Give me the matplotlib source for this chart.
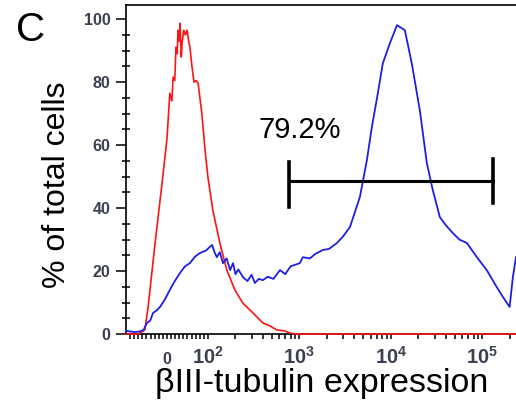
import matplotlib
matplotlib.use("Agg")
import matplotlib.pyplot as plt
from matplotlib.ticker import FixedLocator

plt.rcParams["font.family"] = ["Liberation Sans", "DejaVu Sans"]
plt.rcParams["mathtext.fontset"] = "custom"
plt.rcParams["mathtext.rm"] = "Liberation Sans:bold"
plt.rcParams["mathtext.it"] = "Liberation Sans:bold"

# isotype control (red) - fluorescence vs % of max
red_x = [-100, -70, -54, -46, -29, -12, 0, 7, 12, 15, 19, 22, 25, 27, 30, 32, 35, 37,
         41, 45, 49, 53, 56, 61, 66, 71, 76, 85, 93, 100, 113, 135, 161, 197, 241,
         310, 399, 480, 567, 690, 787, 900, 233000]
red_y = [0, 0, 1.3, 8.6, 28.9, 47.9, 62.0, 76.5, 74.0, 81.6, 80.5, 91.1, 89.0, 96.5,
         93.0, 98.7, 88.0, 92.4, 96.5, 95.0, 96.5, 93.0, 91.1, 85.0, 80.0, 80.5,
         79.7, 70.2, 58.4, 49.8, 39.4, 28.9, 20.3, 14.0, 9.8, 6.7, 3.5, 2.5, 1.3,
         1.0, 0.3, 0, 0]

# betaIII-tubulin stained cells (blue)
blue_x = [-100, -80, -66, -57, -49, -41, -34, -25, -17, -5, 7, 20, 32, 44, 56, 68, 80,
          95, 111, 118, 125, 135, 146, 160, 175, 188, 200, 215, 241, 270, 300, 326,
          360, 399, 450, 520, 613, 700, 800, 1010, 1090, 1300, 1500, 1810, 2100,
          2570, 3000, 3570, 4580, 5460, 6190, 7200, 8160, 9760, 11650, 14200, 16900,
          20700, 24700, 28700, 34300, 40000, 47400, 56000, 67700, 87000, 111600,
          143400, 170000, 198500, 215400, 233000]
blue_y = [1.0, 0.6, 0.8, 1.3, 3.5, 4.2, 6.7, 7.5, 8.6, 11.0, 14.0, 17.0, 19.4, 21.5,
          22.5, 24.5, 25.7, 26.5, 28.3, 26.0, 24.4, 26.0, 22.5, 24.0, 20.3, 22.5,
          19.0, 20.5, 18.1, 16.8, 18.8, 16.2, 17.5, 17.1, 18.2, 17.5, 20.3, 19.0,
          21.5, 22.5, 24.4, 24.0, 25.5, 26.7, 27.0, 28.9, 31.0, 34.0, 43.5, 55.2,
          65.7, 76.5, 86.0, 92.4, 98.1, 96.5, 86.0, 71.1, 54.3, 45.7, 37.1, 34.5,
          32.1, 30.0, 28.9, 24.4, 20.3, 14.9, 11.5, 8.6, 18.1, 24.4]

# gate marker
gate_x = [776, 132000]
gate_y = 48.6
gate_caps = [(40.3, 54.6), (41.6, 55.6)]
gate_label = "79.2%"

x_major = [0, 100, 1000, 10000, 100000]
x_major_labels = ["0", "$10^{2}$", "$10^{3}$", "$10^{4}$", "$10^{5}$"]
x_minor = ([-v for v in range(10, 100, 10)] + list(range(10, 100, 10))
           + [m * 10 ** k for k in (2, 3, 4) for m in range(2, 10)] + [200000])

fig = plt.figure(figsize=(5.16, 4.12), dpi=100)
ax = fig.add_axes([126 / 516, 1 - 334 / 412, 390 / 516, 329 / 412])

ax.plot(red_x, red_y, color="#ff1414", lw=1.2, zorder=3, clip_on=False)
ax.plot(blue_x, blue_y, color="#1e1ee6", lw=1.3, zorder=4, clip_on=False)

ax.plot(gate_x, [gate_y, gate_y], color="black", lw=2.2, zorder=5)
for gx, (lo, hi) in zip(gate_x, gate_caps):
    ax.plot([gx, gx], [lo, hi], color="black", lw=2.6, zorder=5)
ax.text(1000, 62.2, gate_label, ha="center", va="baseline", fontsize=21)

ax.set_xscale("symlog", linthresh=100, linscale=0.403)
ax.set_xlim(-100, 233000)
ax.set_ylim(0, 104.5)

ax.xaxis.set_major_locator(FixedLocator(x_major))
ax.xaxis.set_minor_locator(FixedLocator(x_minor))
ax.set_xticklabels(x_major_labels, fontsize=14.5, fontweight="bold",
                   va="baseline")
ax.set_yticks([0, 20, 40, 60, 80, 100])
ax.set_yticks(range(0, 105, 5), minor=True)

tick_color = "#3c4050"
ax.tick_params(axis="x", which="both", direction="out", length=3.8, width=1.1,
               pad=18, labelcolor=tick_color)
ax.tick_params(axis="y", which="major", direction="out", length=7, width=1.1,
               pad=4, labelsize=11.5, labelcolor=tick_color)
ax.tick_params(axis="y", which="minor", direction="inout", length=6, width=1.1)
for lab in ax.get_yticklabels():
    lab.set_fontweight("bold")
ax.get_xticklabels()[0].set_fontsize(11.5)

ax.spines["right"].set_visible(False)
for s in ("left", "top", "bottom"):
    ax.spines[s].set_linewidth(1.2)

fig.text(57 / 516, 1 - 185 / 412, "% of total cells", rotation=90,
         ha="center", va="center", fontsize=23)
fig.text(322 / 516, 1 - 392 / 412, "\u03b2III-tubulin expression",
         ha="center", va="baseline", fontsize=24.5)
fig.text(31 / 516, 1 - 30 / 412, "C", ha="center", va="center", fontsize=29)

fig.savefig("out.png", dpi=100)
